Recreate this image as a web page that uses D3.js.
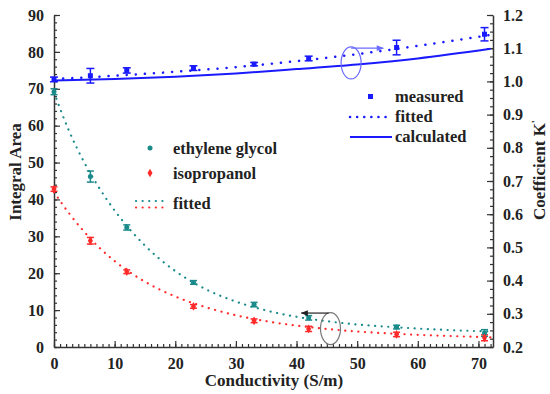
<!DOCTYPE html>
<html>
<head>
<meta charset="utf-8">
<script src="https://cdn.jsdelivr.net/npm/d3@7"></script>
<style>
  body { margin: 0; background: #fff; }
  svg text { font-family: "Liberation Serif", "Times New Roman", serif; font-weight: bold; }
</style>
</head>
<body>
<svg width="550" height="394"></svg>
<script>
// conductivity of the measured samples (S/m)
var cond = [0, 6, 12, 23, 33, 42, 56.5, 71];

// left axis: integral area
var glycol = [69.2, 46.2, 32.4, 17.5, 11.5, 7.9, 5.4, 3.8];
var glycolErr = [0.8, 1.5, 0.7, 0.5, 0.6, 0.6, 0.5, 0.9];
var propanol = [42.8, 28.8, 20.4, 11.0, 7.1, 4.9, 3.4, 2.5];
var propanolErr = [0.6, 0.9, 0.5, 0.5, 0.5, 0.7, 0.6, 0.8];

// fitted decay curves
var fitX = [0, 2.5, 5, 7.5, 10, 15, 20, 25, 30, 35, 40, 45, 50, 55, 60, 65, 72];
var glycolFit = [69, 58.5, 50, 43, 37, 27.5, 20.6, 15.7, 12.3, 9.9, 8.2, 7.0, 6.1, 5.5, 5.0, 4.6, 4.2];
var propanolFit = [42, 36.2, 31.2, 26.9, 23.3, 17.7, 13.7, 10.8, 8.6, 7.0, 5.8, 4.9, 4.2, 3.7, 3.3, 3.0, 2.6];

// right axis: coefficient K'
var kMeasured = [1.006, 1.017, 1.033, 1.040, 1.052, 1.069, 1.102, 1.142];
var kErr = [0.007, 0.022, 0.008, 0.007, 0.005, 0.007, 0.022, 0.02];
var kX = [0, 10, 20, 30, 40, 50, 60, 72];
var kFitted = [1.007, 1.017, 1.029, 1.043, 1.061, 1.082, 1.107, 1.140];
var kCalc = [1.003, 1.007, 1.014, 1.024, 1.037, 1.051, 1.069, 1.098];

var blue = "#1a1aff", teal = "#1b8a8a", red = "#ff2a2a";

var svg = d3.select("svg");
var pl = 54, pr = 493, pt = 15, pb = 347;

var x = d3.scaleLinear().domain([0, 72.4]).range([pl, pr]);
var y = d3.scaleLinear().domain([0, 90]).range([pb, pt]);
var yk = d3.scaleLinear().domain([0.2, 1.2]).range([pb, pt]);

// axes, ticks pointing inward
function minorTicks(axisG) {
  axisG.selectAll("path").attr("stroke", "#333").attr("stroke-width", 1.5);
  axisG.selectAll("line").attr("stroke", "#333").attr("stroke-width", 1.2);
  axisG.selectAll("text").remove();
}
function majorTicks(axisG) {
  axisG.select("path").remove();
  axisG.selectAll("line").attr("stroke", "#333").attr("stroke-width", 1.2);
  axisG.selectAll("text").attr("font-size", 16).attr("fill", "#222")
    .style("font-family", "Liberation Serif").style("font-weight", "bold");
}

var xMinor = svg.append("g").attr("transform", "translate(0," + pb + ")")
  .call(d3.axisBottom(x).tickValues(d3.range(0, 73, 1)).tickSizeInner(-3).tickSizeOuter(0));
minorTicks(xMinor);
var xMajor = svg.append("g").attr("transform", "translate(0," + pb + ")")
  .call(d3.axisBottom(x).tickValues(d3.range(0, 71, 10)).tickSizeInner(-6).tickSizeOuter(0).tickPadding(11));
majorTicks(xMajor);

var yMinor = svg.append("g").attr("transform", "translate(" + pl + ",0)")
  .call(d3.axisLeft(y).tickValues(d3.range(0, 91, 2)).tickSizeInner(-3).tickSizeOuter(0));
minorTicks(yMinor);
var yMajor = svg.append("g").attr("transform", "translate(" + pl + ",0)")
  .call(d3.axisLeft(y).tickValues(d3.range(0, 91, 10)).tickSizeInner(-6).tickSizeOuter(0).tickPadding(10));
majorTicks(yMajor);

var kMinor = svg.append("g").attr("transform", "translate(" + pr + ",0)")
  .call(d3.axisRight(yk).tickValues(d3.range(0, 41).map(function(i) { return 0.2 + i * 0.025; })).tickSizeInner(-3).tickSizeOuter(0));
minorTicks(kMinor);
var kMajor = svg.append("g").attr("transform", "translate(" + pr + ",0)")
  .call(d3.axisRight(yk).tickValues(d3.range(0, 11).map(function(i) { return 0.2 + i * 0.1; }))
    .tickFormat(d3.format(".1f")).tickSizeInner(-6).tickSizeOuter(0).tickPadding(10));
majorTicks(kMajor);

// axis titles
svg.append("text").attr("x", 274).attr("y", 386).attr("text-anchor", "middle")
  .attr("font-size", 17).attr("fill", "#222").text("Conductivity (S/m)");
svg.append("text").attr("transform", "translate(21,172) rotate(-90)").attr("text-anchor", "middle")
  .attr("font-size", 17).attr("fill", "#222").text("Integral Area");
var kt = svg.append("text").attr("transform", "translate(545,170) rotate(-90)").attr("text-anchor", "middle")
  .attr("font-size", 17).attr("fill", "#222");
kt.append("tspan").text("Coefficient K");
kt.append("tspan").attr("dy", -6).attr("font-size", 11).text("'");

// curves
var lineL = function(ys) {
  return d3.line().x(function(d, i) { return x(fitX[i]); }).y(function(d) { return y(d); }).curve(d3.curveMonotoneX)(ys);
};
var lineK = function(ys) {
  return d3.line().x(function(d, i) { return x(kX[i]); }).y(function(d) { return yk(d); }).curve(d3.curveMonotoneX)(ys);
};

svg.append("path").attr("d", lineL(glycolFit)).attr("fill", "none").attr("stroke", teal)
  .attr("stroke-width", 2.2).attr("stroke-dasharray", "0.1,6.5").attr("stroke-linecap", "round");
svg.append("path").attr("d", lineL(propanolFit)).attr("fill", "none").attr("stroke", red)
  .attr("stroke-width", 2.2).attr("stroke-dasharray", "0.1,6.5").attr("stroke-linecap", "round");
svg.append("path").attr("d", lineK(kCalc)).attr("fill", "none").attr("stroke", blue).attr("stroke-width", 2);
svg.append("path").attr("d", lineK(kFitted)).attr("fill", "none").attr("stroke", blue)
  .attr("stroke-width", 2.5).attr("stroke-dasharray", "0.1,9").attr("stroke-linecap", "round");

// error bars + markers
function errBars(vals, errs, scale, color, cap) {
  var g = svg.append("g").attr("stroke", color).attr("stroke-width", 1.5);
  vals.forEach(function(v, i) {
    var cx = x(cond[i]);
    g.append("line").attr("x1", cx).attr("x2", cx).attr("y1", scale(v - errs[i])).attr("y2", scale(v + errs[i]));
    [v - errs[i], v + errs[i]].forEach(function(e) {
      g.append("line").attr("x1", cx - cap).attr("x2", cx + cap).attr("y1", scale(e)).attr("y2", scale(e));
    });
  });
}
errBars(glycol, glycolErr, y, teal, 3.5);
errBars(propanol, propanolErr, y, red, 3.5);
errBars(kMeasured, kErr, yk, blue, 4);

svg.append("g").selectAll("circle").data(glycol).enter().append("circle")
  .attr("cx", function(d, i) { return x(cond[i]); }).attr("cy", function(d) { return y(d); })
  .attr("r", 2.5).attr("fill", teal);
svg.append("g").selectAll("path").data(propanol).enter().append("path")
  .attr("d", d3.symbol().type(d3.symbolDiamond).size(22))
  .attr("transform", function(d, i) { return "translate(" + x(cond[i]) + "," + y(d) + ")"; })
  .attr("fill", red);
svg.append("g").selectAll("rect").data(kMeasured).enter().append("rect")
  .attr("x", function(d, i) { return x(cond[i]) - 2.5; }).attr("y", function(d) { return yk(d) - 2.5; })
  .attr("width", 5).attr("height", 5).attr("fill", blue);

// annotation ellipses and arrows
svg.append("defs").selectAll("marker").data([["ab", "#6b6bff"], ["ak", "#222"]]).enter().append("marker")
  .attr("id", function(d) { return d[0]; }).attr("viewBox", "0 0 10 10").attr("refX", 9).attr("refY", 5)
  .attr("markerWidth", 7).attr("markerHeight", 6).attr("orient", "auto")
  .append("path").attr("d", "M0,1 L10,5 L0,9 Z").attr("fill", function(d) { return d[1]; });

svg.append("ellipse").attr("cx", x(49)).attr("cy", y(77)).attr("rx", 10).attr("ry", 16)
  .attr("fill", "none").attr("stroke", "#6b6bff").attr("stroke-width", 1.2);
svg.append("line").attr("x1", x(49)).attr("x2", x(54.3)).attr("y1", y(81)).attr("y2", y(81))
  .attr("stroke", "#6b6bff").attr("stroke-width", 1.2).attr("marker-end", "url(#ab)");

svg.append("ellipse").attr("cx", x(45.6)).attr("cy", y(5.0)).attr("rx", 10).attr("ry", 16)
  .attr("fill", "none").attr("stroke", "#777").attr("stroke-width", 1.2);
svg.append("line").attr("x1", x(45.3)).attr("x2", x(40.8)).attr("y1", y(9.2)).attr("y2", y(9.2))
  .attr("stroke", "#222").attr("stroke-width", 1.2).attr("marker-end", "url(#ak)");

// legend: K'
svg.append("rect").attr("x", 368).attr("y", 94).attr("width", 5).attr("height", 5).attr("fill", blue);
svg.append("text").attr("x", 395).attr("y", 102).attr("font-size", 16.5).attr("fill", "#222").text("measured");
svg.append("line").attr("x1", 350).attr("x2", 392).attr("y1", 117).attr("y2", 117).attr("stroke", blue)
  .attr("stroke-width", 2.5).attr("stroke-dasharray", "0.1,7").attr("stroke-linecap", "round");
svg.append("text").attr("x", 395).attr("y", 122).attr("font-size", 16.5).attr("fill", "#222").text("fitted");
svg.append("line").attr("x1", 350).attr("x2", 392).attr("y1", 137).attr("y2", 137).attr("stroke", blue).attr("stroke-width", 2);
svg.append("text").attr("x", 395).attr("y", 142).attr("font-size", 16.5).attr("fill", "#222").text("calculated");

// legend: integral area
svg.append("circle").attr("cx", 150).attr("cy", 148).attr("r", 2.5).attr("fill", teal);
svg.append("text").attr("x", 173).attr("y", 154).attr("font-size", 16.5).attr("fill", "#222").text("ethylene glycol");
svg.append("path").attr("d", d3.symbol().type(d3.symbolDiamond).size(22)).attr("transform", "translate(150,173)").attr("fill", red);
svg.append("text").attr("x", 173).attr("y", 179).attr("font-size", 16.5).attr("fill", "#222").text("isopropanol");
svg.append("line").attr("x1", 136).attr("x2", 167).attr("y1", 201).attr("y2", 201).attr("stroke", teal)
  .attr("stroke-width", 2.2).attr("stroke-dasharray", "0.1,6.5").attr("stroke-linecap", "round");
svg.append("line").attr("x1", 136).attr("x2", 167).attr("y1", 207.5).attr("y2", 207.5).attr("stroke", red)
  .attr("stroke-width", 2.2).attr("stroke-dasharray", "0.1,6.5").attr("stroke-linecap", "round");
svg.append("text").attr("x", 173).attr("y", 209).attr("font-size", 16.5).attr("fill", "#222").text("fitted");
</script>
</body>
</html>
